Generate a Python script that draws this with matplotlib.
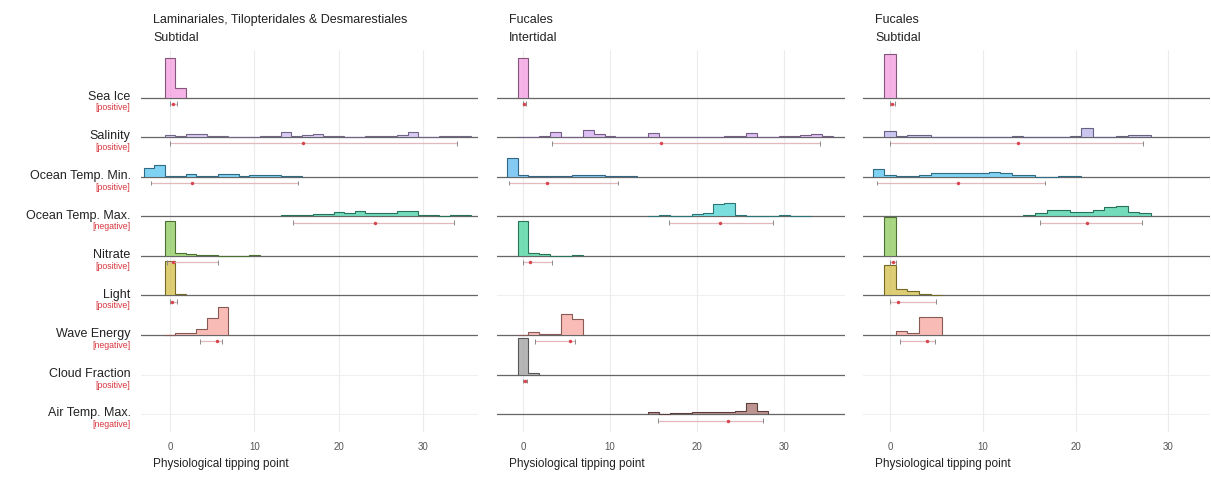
import numpy as np
import matplotlib

matplotlib.use("Agg")
import matplotlib.pyplot as plt
from matplotlib.colors import to_rgb

plt.rcParams["font.family"] = ["Liberation Sans", "DejaVu Sans"]

VARIABLES = ["Sea Ice", "Salinity", "Ocean Temp. Min.", "Ocean Temp. Max.", "Nitrate",
             "Light", "Wave Energy", "Cloud Fraction", "Air Temp. Max."]
EFFECTS = ["positive", "positive", "positive", "negative", "positive",
           "positive", "negative", "positive", "negative"]
TITLES = [("Laminariales, Tilopteridales & Desmarestiales", "Subtidal"),
          ("Fucales", "Intertidal"),
          ("Fucales", "Subtidal")]
BIN = 1.25
XTICKS = [0, 10, 20, 30]

# histogram: centre of first bin, bin heights (in row units), CI as (low, mean, high)
P1_START = [0, 0, -2.5, 13.75, 0, 0, 0, None, None]
P1_HEIGHTS = [
    [1.0, 0.25],
    [0.05, 0.02, 0.08, 0.08, 0.02, 0.02, 0.01, 0.0, 0.01, 0.02, 0.02, 0.13, 0.02, 0.06, 0.08,
     0.02, 0.02, 0.01, 0.0, 0.02, 0.03, 0.04, 0.05, 0.13, 0.01, 0.0, 0.02, 0.03, 0.02],
    [0.22, 0.3, 0.02, 0.02, 0.08, 0.02, 0.02, 0.07, 0.07, 0.01, 0.05, 0.05, 0.05, 0.02, 0.01],
    [0.03, 0.02, 0.04, 0.05, 0.06, 0.1, 0.07, 0.13, 0.07, 0.07, 0.08, 0.13, 0.14, 0.02, 0.03,
     0.01, 0.03, 0.02],
    [0.89, 0.06, 0.05, 0.03, 0.01, 0.0, 0.0, 0.0, 0.02],
    [0.87, 0.03],
    [0.01, 0.04, 0.04, 0.14, 0.42, 0.72],
    None,
    None,
]
P1_CI = [(0.0, 0.3, 0.8), (0.0, 15.7, 34.0), (-2.25, 2.6, 15.1), (14.6, 24.3, 33.6),
         (-0.35, 0.3, 5.7), (0.0, 0.2, 0.8), (3.6, 5.6, 6.2), None, None]
P1_COLORS = ["#f29ade", "#cdb9f2", "#55c3ee", "#45cfa5", "#8cc95a",
             "#d2bd45", "#f7a49c", None, None]

P2_START = [0, 0, -1.25, 15, 0, None, 0, 0, 15]
P2_HEIGHTS = [
    [1.0],
    [0.0, 0.0, 0.02, 0.12, 0.01, 0.01, 0.17, 0.08, 0.03, 0.0, 0.01, 0.01, 0.1, 0.01, 0.01,
     0.0, 0.0, 0.0, 0.0, 0.02, 0.02, 0.1, 0.01, 0.0, 0.02, 0.03, 0.06, 0.09, 0.02],
    [0.48, 0.03, 0.02, 0.02, 0.02, 0.02, 0.03, 0.04, 0.04, 0.02, 0.02, 0.02],
    [0.01, 0.04, 0.0, 0.01, 0.05, 0.08, 0.3, 0.34, 0.02, 0.0, 0.0, 0.01, 0.02, 0.01, 0.01],
    [0.89, 0.06, 0.05, 0.0, 0.0, 0.03],
    None,
    [0.01, 0.08, 0.02, 0.02, 0.52, 0.4],
    [0.93, 0.03],
    [0.06, 0.01, 0.02, 0.04, 0.05, 0.06, 0.05, 0.06, 0.07, 0.27, 0.09],
]
P2_CI = [(0.0, 0.1, 0.3), (3.3, 15.9, 34.1), (-1.6, 2.7, 10.9), (16.8, 22.6, 28.7),
         (0.0, 0.8, 3.3), None, (1.4, 5.4, 6.0), (0.0, 0.2, 0.5), (15.5, 23.6, 27.6)]
P2_COLORS = ["#f49ae0", "#d3aaf2", "#5bb9f0", "#4fd4d4", "#48d39c",
             None, "#f8a69e", "#9e9e9e", "#a8706e"]

P3_START = [0, 0, -1.25, 15, 0, 0, 1.25, None, None]
P3_HEIGHTS = [
    [1.1],
    [0.16, 0.02, 0.06, 0.05, 0.01, 0.0, 0.01, 0.01, 0.01, 0.01, 0.01, 0.02, 0.0, 0.01, 0.01,
     0.01, 0.02, 0.23, 0.01, 0.0, 0.03, 0.06, 0.05],
    [0.19, 0.03, 0.02, 0.02, 0.05, 0.09, 0.1, 0.1, 0.1, 0.1, 0.11, 0.09, 0.04, 0.03, 0.0,
     0.0, 0.02, 0.01],
    [0.02, 0.08, 0.15, 0.15, 0.12, 0.1, 0.15, 0.24, 0.25, 0.12, 0.08],
    [0.97],
    [0.78, 0.17, 0.1, 0.03, 0.02],
    [0.1, 0.05, 0.46, 0.46],
    None,
    None,
]
P3_CI = [(0.0, 0.2, 0.5), (0.0, 13.8, 27.3), (-1.4, 7.3, 16.7), (16.2, 21.2, 27.2),
         (0.0, 0.3, 0.6), (0.0, 0.9, 5.0), (1.1, 4.0, 4.9), None, None]
P3_COLORS = ["#f29ade", "#b9b4ec", "#55c3ee", "#45cfa5", "#8cc95a",
             "#d2bd45", "#f7a49c", None, None]

PANELS = [
    (P1_START, P1_HEIGHTS, P1_CI, P1_COLORS),
    (P2_START, P2_HEIGHTS, P2_CI, P2_COLORS),
    (P3_START, P3_HEIGHTS, P3_CI, P3_COLORS),
]

W, H = 1211, 478
# axes boxes in pixels: left, right; x limits per panel
AX_PX = [(141, 478), (497, 845), (863, 1210)]
XLIMS = [(-3.43, 36.45), (-2.99, 37.0), (-2.91, 34.5)]
AX_TOP, AX_BOTTOM = 50, 432
YLIM = (-0.45, 9.2)


def darker(color, f=0.55):
    r, g, b = to_rgb(color)
    return (r * f, g * f, b * f)


def draw_panel(ax, start, heights, cis, colors):
    n = len(VARIABLES)
    for i in range(n):
        base = n - 1 - i
        ax.axhline(base, color="#f0f0f0", lw=0.8, zorder=0)
        if heights[i] is None:
            continue
        ax.axhline(base, color="#666666", lw=0.9, zorder=1)
        h = np.array(heights[i])
        edges = start[i] - BIN / 2 + BIN * np.arange(len(h) + 1)
        ax.stairs(base + h, edges, baseline=base, fill=True, color=colors[i],
                  alpha=0.75, lw=0, zorder=2 + i * 0.01)
        ax.stairs(base + h, edges, baseline=base, fill=False,
                  color=darker(colors[i]), lw=0.8, zorder=3 + i * 0.01)
        lo, mean, hi = cis[i]
        y = base - 0.16
        ax.hlines(y, lo, hi, color="#e3b9be", lw=0.9, zorder=4)
        ax.vlines([lo, hi], y - 0.06, y + 0.06, color="#8a8a8a", lw=0.7, zorder=4)
        ax.plot(mean, y, "o", ms=2.5, color="#d8454f", mec="none", zorder=5)


fig = plt.figure(figsize=(W / 100, H / 100), dpi=100)

for k, (start, heights, cis, colors) in enumerate(PANELS):
    left, right = AX_PX[k]
    ax = fig.add_axes([left / W, 1 - AX_BOTTOM / H, (right - left) / W,
                       (AX_BOTTOM - AX_TOP) / H])
    ax.set_xlim(*XLIMS[k])
    ax.set_ylim(*YLIM)
    ax.set_xticks(XTICKS)
    ax.set_yticks([])
    ax.grid(axis="x", color="#ececec", lw=0.8, zorder=0)
    ax.set_axisbelow(True)
    ax.tick_params(axis="x", length=0, labelsize=7, labelcolor="#555555", pad=7)
    for s in ax.spines.values():
        s.set_visible(False)
    draw_panel(ax, start, heights, cis, colors)

    tx = (left + 12) / W
    fig.text(tx, 1 - 20 / H, TITLES[k][0], fontsize=9, va="center", ha="left",
             color="#222222")
    fig.text(tx, 1 - 38 / H, TITLES[k][1], fontsize=9, va="center", ha="left",
             color="#222222")
    fig.text(tx, 1 - 464 / H, "Physiological tipping point", fontsize=8.5,
             va="center", ha="left", color="#222222")

    if k == 0:
        n = len(VARIABLES)
        for i, (name, eff) in enumerate(zip(VARIABLES, EFFECTS)):
            base = n - 1 - i
            ax.annotate(name, xy=(0, base), xycoords=("axes fraction", "data"),
                        xytext=(-7.5, 0.5), textcoords="offset points", ha="right",
                        va="center", fontsize=9, color="#222222", annotation_clip=False)
            ax.annotate(f"[{eff}]", xy=(0, base), xycoords=("axes fraction", "data"),
                        xytext=(-7.5, -7.5), textcoords="offset points", ha="right",
                        va="center", fontsize=6.3, color="#d8363e", annotation_clip=False)

fig.savefig("out.png", dpi=100)
